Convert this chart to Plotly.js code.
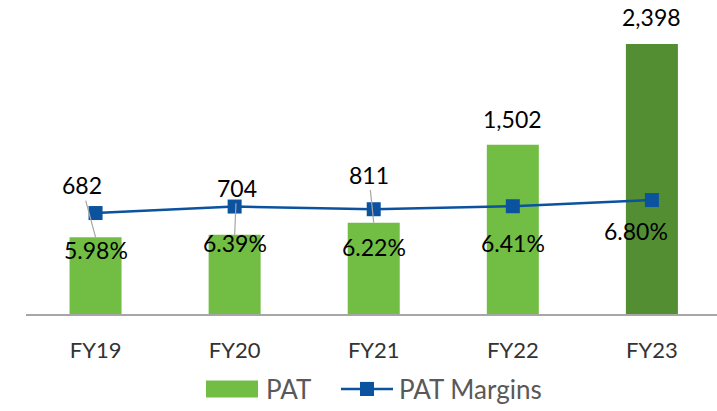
<!DOCTYPE html>
<html>
<head>
<meta charset="utf-8">
<script src="https://cdn.plot.ly/plotly-3.0.1.min.js"></script>
<style>
html,body{margin:0;padding:0;background:#fff;}
#chart{width:717px;height:411px;}
</style>
</head>
<body>
<div id="chart"></div>
<script>
const categories = ["FY19", "FY20", "FY21", "FY22", "FY23"];
const pat = [682, 704, 811, 1502, 2398];
const patLabels = ["682", "704", "811", "1,502", "2,398"];
const margins = [5.98, 6.39, 6.22, 6.41, 6.80];
const marginLabels = ["5.98%", "6.39%", "6.22%", "6.41%", "6.80%"];

const FONT = "Lato, 'Open Sans', sans-serif";
const barColors = ["#72BE44", "#72BE44", "#72BE44", "#72BE44", "#548E33"];
const lineColor = "#0B539F";

const traces = [
  {
    type: "bar", x: categories, y: pat, name: "PAT",
    marker: {color: barColors}, width: 0.374,
    hoverinfo: "x+y", showlegend: false
  },
  {
    type: "scatter", mode: "lines+markers", x: categories, y: margins, yaxis: "y2",
    name: "PAT Margins",
    line: {color: lineColor, width: 2.5},
    marker: {symbol: "square", size: 14, color: lineColor},
    showlegend: false
  }
];

// offsets for bar-value labels (pixels) - leader lines for the first three
const barOff = [[-14, -52, true], [2, -47, true], [-5, -48, true], [0, -26, false], [0, -27, false]];
const pctOff = [[0, -37], [0, -36.5], [0, -38], [0, -37], [-16, -31]];

const annotations = [];
categories.forEach((c, i) => {
  const o = barOff[i];
  if (o[2]) {
    annotations.push({
      x: c, y: pat[i], xref: "x", yref: "y", text: patLabels[i],
      showarrow: true, arrowhead: 0, arrowwidth: 1.2, arrowcolor: "#A6A6A6",
      ax: o[0], ay: o[1], standoff: 0,
      font: {family: FONT, size: 23, color: "#000"}
    });
  } else {
    annotations.push({
      x: c, y: pat[i], xref: "x", yref: "y", text: patLabels[i],
      showarrow: false, xshift: o[0], yshift: -o[1],
      font: {family: FONT, size: 23, color: "#000"}
    });
  }
  annotations.push({
    x: c, y: margins[i], xref: "x", yref: "y2", text: marginLabels[i],
    showarrow: false, xshift: pctOff[i][0], yshift: pctOff[i][1],
    font: {family: FONT, size: 23, color: "#000"}
  });
});

// custom legend (Excel-style)
const legendY = -0.255; // paper coords below plot
annotations.push({
  xref: "paper", yref: "paper", x: 0.345, y: legendY, xanchor: "left", yanchor: "middle",
  text: "PAT", showarrow: false, font: {family: FONT, size: 26, color: "#595959"}
});
annotations.push({
  xref: "paper", yref: "paper", x: 0.537, y: legendY, xanchor: "left", yanchor: "middle",
  text: "PAT Margins", showarrow: false, font: {family: FONT, size: 26, color: "#595959"}
});

const L = 26, W = 691;
const px = v => (v - L) / W;
const shapes = [
  {type: "rect", xref: "paper", yref: "paper", x0: px(206), x1: px(258),
   y0: legendY - 0.029, y1: legendY + 0.029, fillcolor: "#72BE44", line: {width: 0}},
  {type: "line", xref: "paper", yref: "paper", x0: px(341), x1: px(393),
   y0: legendY, y1: legendY, line: {color: lineColor, width: 2.5}},
  {type: "rect", xref: "paper", yref: "paper", x0: px(360), x1: px(374),
   y0: legendY - 0.024, y1: legendY + 0.024, fillcolor: lineColor, line: {width: 0}}
];

const layout = {
  width: 717, height: 411,
  margin: {l: L, r: 0, t: 20, b: 97},
  paper_bgcolor: "#fff", plot_bgcolor: "#fff",
  showlegend: false,
  xaxis: {
    type: "category", range: [-0.5, 4.468],
    showline: true, linecolor: "#A6A6A6", linewidth: 1.5,
    ticks: "", showgrid: false, zeroline: false,
    tickfont: {family: FONT, size: 22, color: "#333333"},
    ticklabelstandoff: 16
  },
  yaxis: {range: [0, 2611], visible: false, showgrid: false, zeroline: false},
  yaxis2: {range: [-0.39, 18.16], overlaying: "y", side: "right", visible: false, showgrid: false, zeroline: false},
  annotations: annotations,
  shapes: shapes
};

Plotly.newPlot("chart", traces, layout, {displayModeBar: false, staticPlot: true});
</script>
</body>
</html>
